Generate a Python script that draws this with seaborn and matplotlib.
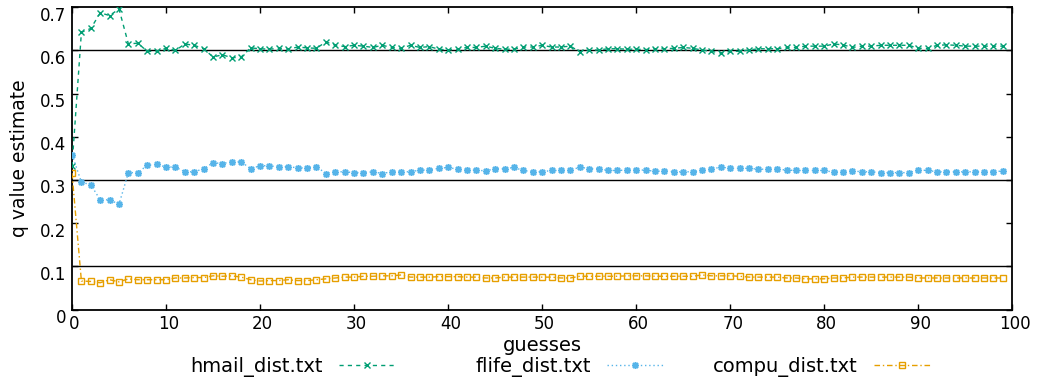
import numpy as np
import pandas as pd
import matplotlib
matplotlib.use("Agg")
import matplotlib.pyplot as plt
import matplotlib.transforms as mtransforms
from matplotlib.lines import Line2D
import seaborn as sns

# ---- data -------------------------------------------------------------
guesses = list(range(100))

hmail = [0.332, 0.642, 0.651, 0.687, 0.681, 0.696, 0.615, 0.617, 0.598, 0.598,
         0.605, 0.600, 0.615, 0.612, 0.604, 0.585, 0.590, 0.583, 0.585, 0.606,
         0.604, 0.603, 0.605, 0.603, 0.608, 0.606, 0.605, 0.620, 0.612, 0.609,
         0.612, 0.610, 0.607, 0.612, 0.607, 0.605, 0.612, 0.607, 0.609, 0.603,
         0.601, 0.603, 0.607, 0.607, 0.610, 0.605, 0.603, 0.603, 0.608, 0.608,
         0.612, 0.608, 0.608, 0.610, 0.597, 0.601, 0.601, 0.604, 0.604, 0.603,
         0.603, 0.602, 0.604, 0.604, 0.605, 0.607, 0.605, 0.601, 0.598, 0.594,
         0.598, 0.598, 0.601, 0.604, 0.604, 0.604, 0.607, 0.607, 0.610, 0.610,
         0.610, 0.615, 0.613, 0.607, 0.610, 0.610, 0.612, 0.612, 0.612, 0.612,
         0.605, 0.605, 0.612, 0.613, 0.612, 0.610, 0.610, 0.610, 0.610, 0.610]

flife = [0.359, 0.295, 0.289, 0.254, 0.254, 0.244, 0.317, 0.317, 0.334, 0.336,
         0.330, 0.330, 0.319, 0.319, 0.326, 0.340, 0.338, 0.342, 0.342, 0.326,
         0.333, 0.333, 0.330, 0.331, 0.328, 0.328, 0.331, 0.315, 0.319, 0.319,
         0.317, 0.317, 0.319, 0.315, 0.319, 0.319, 0.319, 0.323, 0.323, 0.327,
         0.329, 0.325, 0.323, 0.323, 0.321, 0.326, 0.326, 0.329, 0.322, 0.319,
         0.319, 0.322, 0.322, 0.322, 0.330, 0.326, 0.326, 0.322, 0.322, 0.323,
         0.323, 0.323, 0.320, 0.321, 0.319, 0.319, 0.319, 0.322, 0.325, 0.330,
         0.327, 0.327, 0.327, 0.325, 0.325, 0.325, 0.323, 0.322, 0.322, 0.322,
         0.322, 0.318, 0.319, 0.321, 0.319, 0.319, 0.317, 0.317, 0.317, 0.317,
         0.323, 0.322, 0.319, 0.319, 0.319, 0.319, 0.319, 0.319, 0.319, 0.321]

compu = [0.316, 0.066, 0.065, 0.062, 0.069, 0.064, 0.071, 0.069, 0.069, 0.069,
         0.069, 0.073, 0.073, 0.074, 0.074, 0.078, 0.077, 0.078, 0.075, 0.069,
         0.066, 0.067, 0.067, 0.069, 0.067, 0.067, 0.069, 0.071, 0.073, 0.075,
         0.075, 0.077, 0.077, 0.078, 0.078, 0.080, 0.075, 0.075, 0.075, 0.076,
         0.076, 0.076, 0.075, 0.075, 0.073, 0.073, 0.075, 0.075, 0.075, 0.075,
         0.075, 0.075, 0.073, 0.073, 0.077, 0.077, 0.077, 0.077, 0.077, 0.078,
         0.078, 0.078, 0.077, 0.077, 0.077, 0.077, 0.077, 0.080, 0.078, 0.078,
         0.078, 0.077, 0.075, 0.075, 0.075, 0.075, 0.073, 0.073, 0.071, 0.071,
         0.071, 0.073, 0.073, 0.075, 0.075, 0.075, 0.075, 0.075, 0.075, 0.075,
         0.073, 0.073, 0.073, 0.073, 0.073, 0.073, 0.073, 0.073, 0.073, 0.073]

series_names = ["hmail_dist.txt", "flife_dist.txt", "compu_dist.txt"]
reference_levels = [0.6, 0.3, 0.1]
y_ticks = [0, 0.1, 0.2, 0.3, 0.4, 0.5, 0.6, 0.7]
y_tick_labels = ["0", "0.1", "0.2", "0.3", "0.4", "0.5", "0.6", "0.7"]
x_ticks = list(range(0, 101, 10))

# ---- styling ------------------------------------------------------------
styles = {
    "hmail_dist.txt": dict(color="#009e73", marker="x", linestyle=(0, (3, 3)),
                           ms=4.6, mew=1.0),
    "flife_dist.txt": dict(color="#56b4e9", marker=(8, 2, 0), linestyle=(0, (1, 2)),
                           ms=5.0, mew=1.1),
    "compu_dist.txt": dict(color="#e69f00", marker="s", linestyle=(0, (4, 2, 1, 2)),
                           ms=4.8, mew=1.0, mfc="none"),
}

sns.set_theme(style="ticks")
plt.rcParams["font.family"] = ["DejaVu Sans"]
plt.rcParams["text.color"] = "black"
plt.rcParams["axes.labelcolor"] = "black"

fig = plt.figure(figsize=(10.4, 3.83), dpi=100)
ax = fig.add_axes([72 / 1040, 1 - 309.5 / 383, (1012.3 - 72) / 1040, (309.5 - 7.3) / 383])

df = pd.DataFrame({"guesses": guesses * 3,
                   "q": hmail + flife + compu,
                   "file": sum([[n] * len(guesses) for n in series_names], [])})

for level in reference_levels:
    ax.axhline(level, color="black", lw=1.0, zorder=1)

for name in series_names:
    st = styles[name]
    sns.lineplot(data=df[df["file"] == name], x="guesses", y="q", ax=ax,
                 color=st["color"], marker=st["marker"], linestyle=st["linestyle"],
                 markersize=st["ms"], markeredgewidth=st["mew"],
                 markerfacecolor=st.get("mfc", st["color"]),
                 markeredgecolor=st["color"], lw=1.0, legend=False, zorder=3)

ax.set_xlim(0, 100)
ax.set_ylim(0, 0.7)
ax.set_xticks(x_ticks)
ax.set_yticks(y_ticks)
ax.set_yticklabels(y_tick_labels)
ax.tick_params(direction="in", length=4, width=1, top=True, right=True,
               labelsize=12, colors="black", pad=4)
for sp in ax.spines.values():
    sp.set_linewidth(1.3)
    sp.set_color("black")
ax.grid(False)

# nudge tick labels the way the original terminal placed them
dy = mtransforms.ScaledTranslation(0, -6.5 / 100, fig.dpi_scale_trans)
for lbl in ax.get_yticklabels():
    lbl.set_transform(lbl.get_transform() + dy)
dx = mtransforms.ScaledTranslation(2.5 / 100, 0, fig.dpi_scale_trans)
for lbl in ax.get_xticklabels():
    lbl.set_transform(lbl.get_transform() + dx)

ax.set_xlabel("guesses", fontsize=14, labelpad=2)
ax.set_ylabel("q value estimate", fontsize=13.5, labelpad=8)

# one legend entry per file, text right-aligned before its sample line
legend_right_px = [395, 663, 930]
for name, xr in zip(series_names, legend_right_px):
    st = styles[name]
    handle = Line2D([], [], color=st["color"], marker=st["marker"],
                    linestyle=st["linestyle"], lw=1.0, markersize=st["ms"],
                    markeredgewidth=st["mew"],
                    markerfacecolor=st.get("mfc", st["color"]),
                    markeredgecolor=st["color"])
    fig.legend(handles=[handle], labels=[name], loc="center right",
               bbox_to_anchor=(xr / 1040, 1 - 367 / 383), frameon=False,
               markerfirst=False, fontsize=14, handlelength=2.9,
               handletextpad=0.8, borderpad=0, borderaxespad=0, numpoints=1)

fig.savefig("out.png", dpi=100)
